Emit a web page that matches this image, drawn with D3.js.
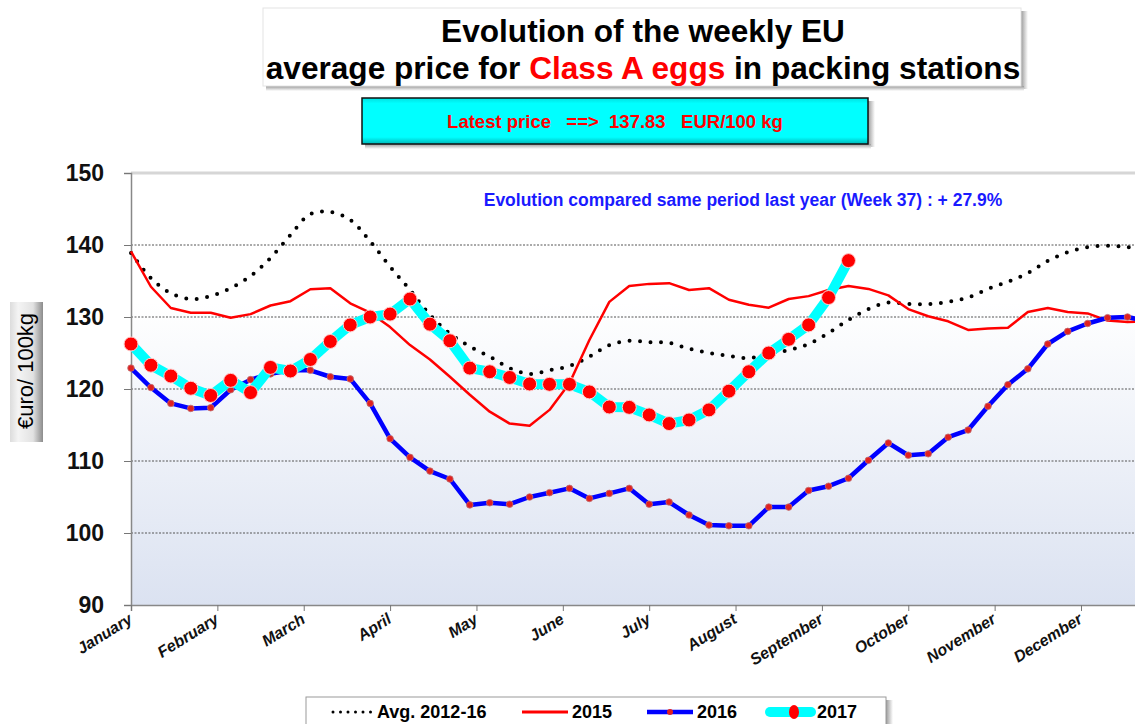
<!DOCTYPE html>
<html>
<head>
<meta charset="utf-8">
<script src="https://cdn.jsdelivr.net/npm/d3@7"></script>
<style>
  html, body { margin: 0; padding: 0; background: #fff; }
  svg { display: block; }
  text { font-family: "Liberation Sans", Arial, sans-serif; }
</style>
</head>
<body>
<svg id="chart" width="1135" height="724"></svg>
<script>
// Weekly EU average price, Class A eggs (EUR/100 kg), weeks 1..52
const months = ["January","February","March","April","May","June","July","August","September","October","November","December"];
const yTicks = [90, 100, 110, 120, 130, 140, 150];

const avg2012_16 = [138.9,135.4,133.3,132.5,132.9,134.0,135.7,138.2,141.4,144.3,144.6,143.5,140.5,137.0,133.75,130.3,127.7,125.9,124.5,122.9,122.1,122.6,123.2,124.5,126.1,126.7,126.5,126.4,125.6,125.0,124.6,124.3,124.8,125.4,126.25,127.8,129.6,131.1,132.0,131.8,131.8,132.1,132.7,133.9,134.9,136.1,137.8,139.0,139.7,139.9,139.7,139.4];
const price2015 = [139.1,134.2,131.25,130.6,130.6,129.9,130.4,131.6,132.2,133.85,134.0,131.9,130.6,128.6,126.1,124.1,121.7,119.2,116.85,115.2,114.9,117.1,120.8,126.8,132.1,134.3,134.6,134.7,133.75,134.0,132.4,131.7,131.3,132.5,132.9,133.75,134.3,133.9,133.0,131.1,130.1,129.4,128.2,128.4,128.5,130.7,131.25,130.7,130.5,129.5,129.3,129.4];
const price2016 = [122.9,120.2,118.0,117.3,117.4,119.9,121.3,122.1,122.6,122.6,121.7,121.4,118.0,113.1,110.5,108.6,107.5,103.9,104.2,104.0,105.0,105.6,106.2,104.8,105.5,106.2,104.0,104.3,102.5,101.1,101.0,101.0,103.6,103.6,105.9,106.5,107.6,110.1,112.5,110.8,111.0,113.3,114.3,117.6,120.6,122.8,126.25,128.0,129.1,129.9,130.0,129.4];
const price2017 = [126.25,123.3,121.8,120.1,119.1,121.2,119.5,123.0,122.5,124.1,126.6,128.9,130.0,130.4,132.5,129.0,126.7,122.9,122.4,121.6,120.7,120.65,120.65,119.6,117.5,117.45,116.4,115.2,115.7,117.1,119.7,122.4,125.0,126.9,128.9,132.7,137.83];

const latestWeek = price2017.length;
const latestPrice = price2017[latestWeek - 1];
const yearChange = "+ 27.9%";

const svg = d3.select("#chart");
const defs = svg.append("defs");

// plot frame
const plotLeft = 131, plotTop = 173, plotBottom = 605;
const weekStep = 19.93;
const x = d3.scaleLinear().domain([1, 52]).range([plotLeft, plotLeft + 51 * weekStep]);
const y = d3.scaleLinear().domain([90, 150]).range([plotBottom, plotTop]);
const plotRight = x(52);

// gradients
const bg = defs.append("linearGradient").attr("id", "plotBg").attr("x1", 0).attr("y1", 0).attr("x2", 0).attr("y2", 1);
bg.append("stop").attr("offset", "0%").attr("stop-color", "#ffffff");
bg.append("stop").attr("offset", "30%").attr("stop-color", "#ffffff");
bg.append("stop").attr("offset", "100%").attr("stop-color", "#dbe2f1");

const shadowR = defs.append("linearGradient").attr("id", "shadowR").attr("x1", 0).attr("y1", 0).attr("x2", 1).attr("y2", 0);
shadowR.append("stop").attr("offset", "0%").attr("stop-color", "#9a9a9a");
shadowR.append("stop").attr("offset", "100%").attr("stop-color", "#ffffff");
const shadowB = defs.append("linearGradient").attr("id", "shadowB").attr("x1", 0).attr("y1", 0).attr("x2", 0).attr("y2", 1);
shadowB.append("stop").attr("offset", "0%").attr("stop-color", "#9a9a9a");
shadowB.append("stop").attr("offset", "100%").attr("stop-color", "#ffffff");

const ylabBg = defs.append("linearGradient").attr("id", "ylabBg").attr("x1", 0).attr("y1", 0).attr("x2", 1).attr("y2", 0);
ylabBg.append("stop").attr("offset", "0%").attr("stop-color", "#dcdcdc");
ylabBg.append("stop").attr("offset", "25%").attr("stop-color", "#f4f4f4");
ylabBg.append("stop").attr("offset", "70%").attr("stop-color", "#e2e2e2");
ylabBg.append("stop").attr("offset", "100%").attr("stop-color", "#8c8c8c");

const cyanBg = defs.append("linearGradient").attr("id", "cyanBg").attr("x1", 0).attr("y1", 0).attr("x2", 0).attr("y2", 1);
cyanBg.append("stop").attr("offset", "0%").attr("stop-color", "#00e0e0");
cyanBg.append("stop").attr("offset", "12%").attr("stop-color", "#00ffff");
cyanBg.append("stop").attr("offset", "85%").attr("stop-color", "#00ffff");
cyanBg.append("stop").attr("offset", "100%").attr("stop-color", "#00b8b8");

// box with a soft shadow to the right and below
function shadowBox(x0, y0, w, h, fill, stroke, sw) {
  svg.append("rect").attr("x", x0 + w).attr("y", y0 + 3).attr("width", 7).attr("height", h).attr("fill", "url(#shadowR)");
  svg.append("rect").attr("x", x0 + 3).attr("y", y0 + h).attr("width", w).attr("height", 5).attr("fill", "url(#shadowB)");
  svg.append("rect").attr("x", x0).attr("y", y0).attr("width", w).attr("height", h)
    .attr("fill", fill).attr("stroke", stroke).attr("stroke-width", sw);
}

// title
shadowBox(263, 8, 758, 78, "#ffffff", "#e4e4e4", 1);
svg.append("text").attr("x", 643).attr("y", 42).attr("text-anchor", "middle")
  .attr("font-size", 31.6).attr("font-weight", "bold").attr("fill", "#000")
  .text("Evolution of the weekly EU");
const t2 = svg.append("text").attr("x", 643).attr("y", 79).attr("text-anchor", "middle")
  .attr("font-size", 31.6).attr("font-weight", "bold").attr("fill", "#000");
t2.append("tspan").text("average price for ");
t2.append("tspan").attr("fill", "#ff0000").text("Class A eggs");
t2.append("tspan").text(" in packing stations");

// latest price box
shadowBox(362, 98, 506, 46, "url(#cyanBg)", "#111", 1.5);
svg.append("text").attr("x", 615).attr("y", 128).attr("text-anchor", "middle")
  .attr("font-family", "Lato, 'Open Sans', sans-serif")
  .attr("font-size", 18.5).attr("font-weight", "bold").attr("fill", "#ff0000")
  .style("white-space", "pre")
  .text("Latest price   ==>  " + latestPrice.toFixed(2) + "   EUR/100 kg");

// plot background
svg.append("rect").attr("x", plotLeft).attr("y", plotTop).attr("width", plotRight - plotLeft).attr("height", plotBottom - plotTop)
  .attr("fill", "url(#plotBg)");

// gridlines
svg.append("g").selectAll("line").data(yTicks.filter(v => v > 90 && v < 150)).join("line")
  .attr("x1", plotLeft).attr("x2", plotRight).attr("y1", d => y(d)).attr("y2", d => y(d))
  .attr("stroke", "#555").attr("stroke-width", 1).attr("stroke-dasharray", "2,1.5");

// top border of plot area
svg.append("line").attr("x1", plotLeft).attr("x2", plotRight).attr("y1", plotTop).attr("y2", plotTop)
  .attr("stroke", "#d6d6d6").attr("stroke-width", 3);

// y axis
const yAxis = svg.append("g").attr("transform", `translate(${plotLeft},0)`)
  .call(d3.axisLeft(y).tickValues(yTicks).tickSize(7).tickPadding(20).tickFormat(d3.format("d")));
yAxis.select(".domain").attr("stroke", "#888").attr("stroke-width", 1.5);
yAxis.selectAll(".tick line").attr("stroke", "#777");
yAxis.selectAll(".tick text").attr("font-size", 23).attr("font-weight", "bold").attr("fill", "#111")
  .attr("font-family", "'Liberation Sans', Arial, sans-serif");

// x axis with month ticks
const monthWeeks = months.map((m, i) => 1 + i * 52 / 12);
const xAxis = svg.append("g").attr("transform", `translate(0,${plotBottom})`)
  .call(d3.axisBottom(x).tickValues(monthWeeks).tickSize(6).tickFormat((d, i) => months[i]));
xAxis.select(".domain").attr("stroke", "#888").attr("stroke-width", 1.5);
xAxis.selectAll(".tick line").attr("stroke", "#777");
xAxis.selectAll(".tick text")
  .attr("font-size", 16).attr("font-weight", "bold").attr("font-style", "italic").attr("fill", "#111")
  .attr("font-family", "'Liberation Sans', Arial, sans-serif")
  .attr("text-anchor", "end").attr("dy", 0).attr("y", 0)
  .attr("transform", "translate(2,17) rotate(-32)");

// y axis title
svg.append("rect").attr("x", 10).attr("y", 302).attr("width", 33).attr("height", 140).attr("fill", "url(#ylabBg)");
svg.append("text").attr("transform", "translate(33,371) rotate(-90)").attr("text-anchor", "middle")
  .attr("font-size", 22).attr("fill", "#000").text("€uro/ 100kg");

// annotation
svg.append("text").attr("x", 743).attr("y", 206).attr("text-anchor", "middle")
  .attr("font-size", 17.5).attr("font-weight", "bold").attr("fill", "#1a1aff")
  .text(`Evolution compared same period last year (Week ${latestWeek}) : ${yearChange}`);

// series
const line = d3.line().x((d, i) => x(i + 1)).y(d => y(d));
const smooth = d3.line().x((d, i) => x(i + 1)).y(d => y(d)).curve(d3.curveCatmullRom.alpha(0.5));
const plot = svg.append("g");

plot.append("path").datum(avg2012_16).attr("d", smooth).attr("fill", "none")
  .attr("stroke", "#000").attr("stroke-width", 4).attr("stroke-linecap", "round")
  .attr("stroke-dasharray", "0,10.5");

plot.append("path").datum(price2015).attr("d", line).attr("fill", "none")
  .attr("stroke", "#ff0000").attr("stroke-width", 2.5).attr("stroke-linejoin", "round");

plot.append("path").datum(price2016).attr("d", line).attr("fill", "none")
  .attr("stroke", "#0000ff").attr("stroke-width", 4.5).attr("stroke-linejoin", "round");
plot.append("g").selectAll("circle").data(price2016).join("circle")
  .attr("cx", (d, i) => x(i + 1)).attr("cy", d => y(d)).attr("r", 3.3)
  .attr("fill", "#e02020").attr("stroke", "#c07070").attr("stroke-width", 0.8);

plot.append("path").datum(price2017).attr("d", line).attr("fill", "none")
  .attr("stroke", "#00ffff").attr("stroke-width", 10).attr("stroke-linejoin", "round");
plot.append("g").selectAll("circle").data(price2017).join("circle")
  .attr("cx", (d, i) => x(i + 1)).attr("cy", d => y(d)).attr("r", 7)
  .attr("fill", "#ff0000").attr("stroke", "#ffd0d0").attr("stroke-width", 1);

// legend
shadowBox(306, 697, 580, 40, "#ffffff", "#9a9a9a", 1);
const lg = svg.append("g");
const ly = 712;
lg.append("line").attr("x1", 333).attr("x2", 372).attr("y1", ly).attr("y2", ly)
  .attr("stroke", "#000").attr("stroke-width", 3).attr("stroke-linecap", "round").attr("stroke-dasharray", "0,7.5");
lg.append("line").attr("x1", 522).attr("x2", 568).attr("y1", ly).attr("y2", ly)
  .attr("stroke", "#ff0000").attr("stroke-width", 3);
lg.append("line").attr("x1", 647).attr("x2", 693).attr("y1", ly).attr("y2", ly)
  .attr("stroke", "#0000ff").attr("stroke-width", 4.5);
lg.append("circle").attr("cx", 670).attr("cy", ly).attr("r", 3).attr("fill", "#e02020");
lg.append("line").attr("x1", 770).attr("x2", 811).attr("y1", ly).attr("y2", ly)
  .attr("stroke", "#00ffff").attr("stroke-width", 10).attr("stroke-linecap", "round");
lg.append("ellipse").attr("cx", 794).attr("cy", ly).attr("rx", 5).attr("ry", 7).attr("fill", "#ff0000");
const legendItems = [["Avg. 2012-16", 377], ["2015", 572], ["2016", 697], ["2017", 817]];
lg.selectAll("text").data(legendItems).join("text")
  .attr("x", d => d[1]).attr("y", ly + 6)
  .attr("font-family", "Lato, 'Open Sans', sans-serif").attr("font-size", 18).attr("font-weight", "bold")
  .attr("fill", "#000").text(d => d[0]);
</script>
</body>
</html>
